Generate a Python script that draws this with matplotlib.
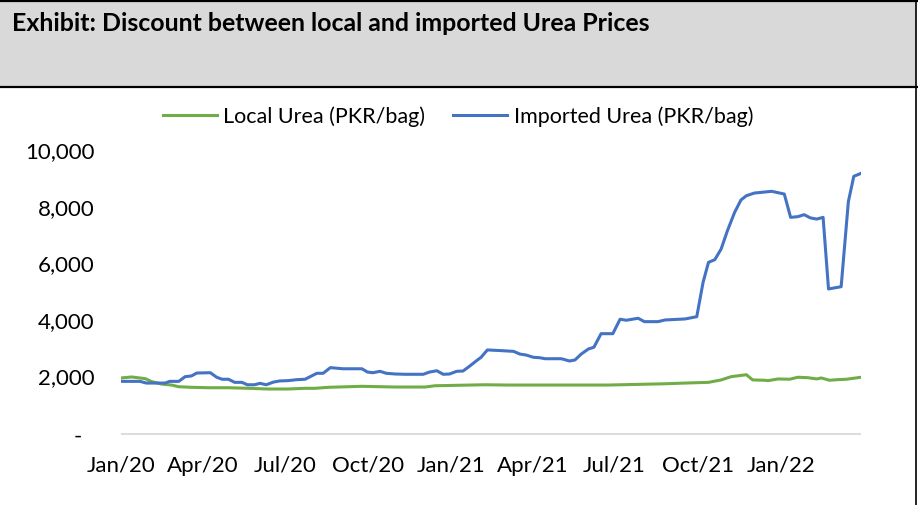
import matplotlib
matplotlib.use('Agg')
import matplotlib.pyplot as plt
import matplotlib.dates as mdates
import pandas as pd
from matplotlib.lines import Line2D
from matplotlib.patches import Rectangle

# ---------------- data ----------------
base_date = '2020-01-01'

imported_days = [0, 21, 28, 49, 54, 64, 71, 78, 84, 99,
                 106, 112, 119, 126, 134, 140, 148, 154, 161, 169,
                 176, 185, 195, 204, 217, 224, 232, 246, 267, 273,
                 279, 287, 294, 304, 315, 335, 342, 350, 357, 364,
                 372, 379, 387, 394, 399, 406, 422, 435, 442, 449,
                 457, 464, 470, 488, 497, 503, 510, 518, 524, 532,
                 545, 553, 560, 573, 580, 595, 603, 625, 638, 645,
                 651, 658, 665, 672, 680, 687, 693, 702, 721, 735,
                 742, 750, 757, 764, 771, 778, 784, 798, 806, 812,
                 820]
imported_values = [1860, 1860, 1800, 1800, 1860, 1860, 2025, 2050, 2155, 2165,
                   2005, 1935, 1935, 1825, 1825, 1740, 1740, 1790, 1740, 1835,
                   1875, 1885, 1920, 1935, 2145, 2145, 2345, 2305, 2305, 2190,
                   2165, 2215, 2145, 2120, 2110, 2110, 2190, 2235, 2110, 2120,
                   2215, 2225, 2415, 2590, 2710, 2970, 2945, 2920, 2825, 2790,
                   2710, 2695, 2660, 2660, 2580, 2615, 2825, 3005, 3065, 3545,
                   3545, 4055, 4020, 4090, 3970, 3970, 4030, 4065, 4145, 5360,
                   6065, 6160, 6535, 7185, 7835, 8270, 8420, 8515, 8575, 8480,
                   7655, 7680, 7750, 7635, 7595, 7655, 5125, 5205, 8210, 9105,
                   9210]

local_days = [0, 12, 27, 34, 45, 56, 64, 78, 97, 119,
              141, 163, 185, 204, 215, 230, 267, 304, 337, 348,
              403, 429, 484, 540, 603, 625, 651, 665, 676, 693,
              700, 713, 717, 728, 741, 750, 761, 771, 776, 785,
              794, 804, 820]
local_values = [1980, 2015, 1955, 1850, 1765, 1730, 1670, 1650, 1635, 1635,
                1615, 1590, 1590, 1615, 1615, 1650, 1685, 1660, 1660, 1705,
                1740, 1730, 1730, 1730, 1775, 1800, 1825, 1910, 2025, 2095,
                1910, 1900, 1885, 1945, 1935, 2005, 1990, 1945, 1980, 1900,
                1920, 1935, 2005]

series_names = ['Local Urea (PKR/bag)', 'Imported Urea (PKR/bag)']
ytick_values = [0, 2000, 4000, 6000, 8000, 10000]
ytick_labels = ['-', '2,000', '4,000', '6,000', '8,000', '10,000']
xtick_dates = ['2020-01-01', '2020-04-01', '2020-07-01', '2020-10-01',
               '2021-01-01', '2021-04-01', '2021-07-01', '2021-10-01',
               '2022-01-01']
title = 'Exhibit: Discount between local and imported Urea Prices'

# ---------------- styling ----------------
FONT = ['Lato', 'DejaVu Sans']
plt.rcParams['font.family'] = FONT
GREEN = '#70AD47'
BLUE = '#4472C4'
GREY = '#D9D9D9'

W, H, DPI = 918, 506, 100
fig = plt.figure(figsize=(W / DPI, H / DPI), dpi=DPI)
fig.patch.set_facecolor('white')

def fx(px):
    return px / W

def fy(py):
    return 1 - py / H

# header band
fig.patches.append(Rectangle((0, fy(88)), fx(916), fy(3) - fy(88),
                             transform=fig.transFigure, facecolor=GREY,
                             edgecolor='none', zorder=0))
fig.lines.append(Line2D([0, fx(917)], [fy(2), fy(2)], transform=fig.transFigure,
                        color='black', lw=1.6))
fig.lines.append(Line2D([0, fx(917)], [fy(88), fy(88)], transform=fig.transFigure,
                        color='black', lw=1.6))
fig.lines.append(Line2D([fx(916), fx(916)], [0, 1], transform=fig.transFigure,
                        color='black', lw=1.2))
fig.text(fx(12), fy(24), title, fontsize=17.9, fontweight='bold',
         ha='left', va='center', color='black')

# axes
ax = fig.add_axes([fx(121), fy(435), fx(861) - fx(121), fy(152) - fy(435)])
base = pd.Timestamp(base_date)
imp_dates = base + pd.to_timedelta(imported_days, unit='D')
loc_dates = base + pd.to_timedelta(local_days, unit='D')

l_local, = ax.plot(loc_dates, local_values, color=GREEN, lw=2.2,
                   solid_joinstyle='round', label=series_names[0])
l_imp, = ax.plot(imp_dates, imported_values, color=BLUE, lw=2.2,
                 solid_joinstyle='round', label=series_names[1])

ax.set_xlim(imp_dates[0], imp_dates[-1])
ax.set_ylim(0, 10000)

for s in ['top', 'right', 'left']:
    ax.spines[s].set_visible(False)
ax.spines['bottom'].set_color(GREY)
ax.spines['bottom'].set_linewidth(1.3)
ax.spines['bottom'].set_capstyle('butt')

ax.set_yticks(ytick_values)
ax.set_yticklabels([''] + ytick_labels[1:])
ax.set_xticks(pd.to_datetime(xtick_dates))
ax.xaxis.set_major_formatter(mdates.DateFormatter('%b/%y'))
ax.tick_params(axis='both', length=0, labelsize=16, colors='black')
ax.tick_params(axis='y', pad=19)
ax.tick_params(axis='x', pad=15)
for lab in ax.get_yticklabels():
    lab.set_verticalalignment('center')
fig.text(fx(82), fy(437), ytick_labels[0], fontsize=16, ha='right', va='center')

fig.legend(handles=[l_local, l_imp], loc='center',
           bbox_to_anchor=(fx(458), fy(117)), ncol=2, frameon=False,
           fontsize=15.5, handlelength=2.5, handletextpad=0.3,
           columnspacing=1.3, borderpad=0)

fig.savefig('out.png', dpi=DPI)
